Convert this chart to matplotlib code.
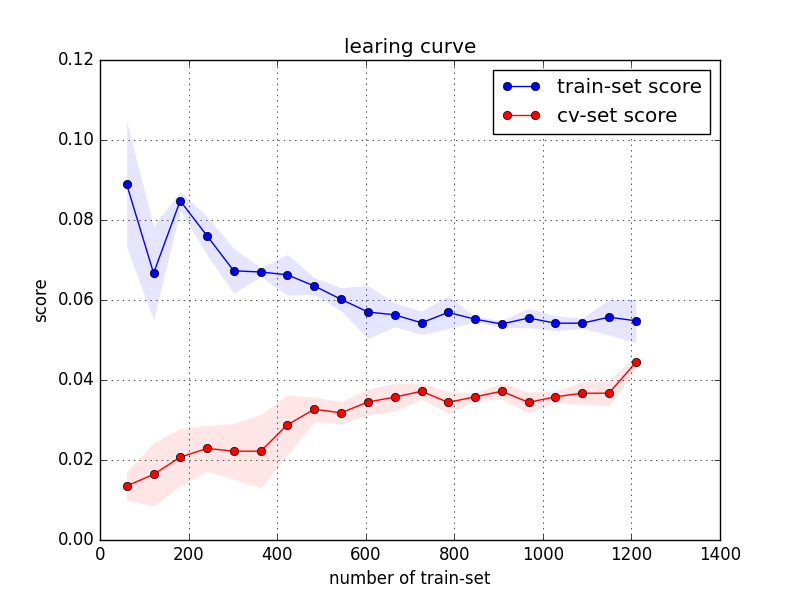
import matplotlib
matplotlib.use("Agg")
import matplotlib.pyplot as plt
import numpy as np

plt.style.use("classic")

train_sizes = [60, 121, 181, 242, 302, 363, 423, 484, 544, 605,
               665, 726, 786, 847, 907, 968, 1028, 1089, 1149, 1210]
train_mean = [0.0890, 0.0667, 0.0848, 0.0760, 0.0673, 0.0670, 0.0663, 0.0635, 0.0602, 0.0570,
              0.0563, 0.0543, 0.0569, 0.0552, 0.0540, 0.0555, 0.0542, 0.0542, 0.0557, 0.0548]
train_std = [0.0157, 0.0117, 0.0024, 0.0048, 0.0056, 0.0011, 0.0051, 0.0021, 0.0029, 0.0066,
             0.0030, 0.0029, 0.0041, 0.0007, 0.0009, 0.0024, 0.0019, 0.0013, 0.0044, 0.0055]
cv_mean = [0.0135, 0.0164, 0.0207, 0.0229, 0.0222, 0.0222, 0.0288, 0.0327, 0.0318, 0.0345,
           0.0357, 0.0372, 0.0344, 0.0358, 0.0372, 0.0344, 0.0358, 0.0367, 0.0367, 0.0444]
cv_std = [0.0036, 0.0079, 0.0072, 0.0057, 0.0070, 0.0092, 0.0075, 0.0030, 0.0028, 0.0032,
          0.0035, 0.0020, 0.0027, 0.0010, 0.0020, 0.0026, 0.0015, 0.0028, 0.0032, 0.0017]

x = np.array(train_sizes)
tm, ts = np.array(train_mean), np.array(train_std)
cm, cs = np.array(cv_mean), np.array(cv_std)

fig = plt.figure(figsize=(8, 6), dpi=100, facecolor="white")
ax = fig.add_axes([0.125, 0.1, 0.775, 0.8])

ax.fill_between(x, tm - ts, tm + ts, alpha=0.1, color="b", linewidth=0)
ax.fill_between(x, cm - cs, cm + cs, alpha=0.1, color="r", linewidth=0)
ax.plot(x, tm, "o-", color="b", label="train-set score", markeredgecolor="k")
ax.plot(x, cm, "o-", color="r", label="cv-set score", markeredgecolor="k")

ax.set_xlim(0, 1400)
ax.set_ylim(0, 0.12)
ax.set_title("learing curve")
ax.set_xlabel("number of train-set")
ax.set_ylabel("score")
ax.grid(True)
ax.legend(loc="best", numpoints=2, fontsize="large")

fig.savefig("out.png", dpi=100, facecolor="white")
